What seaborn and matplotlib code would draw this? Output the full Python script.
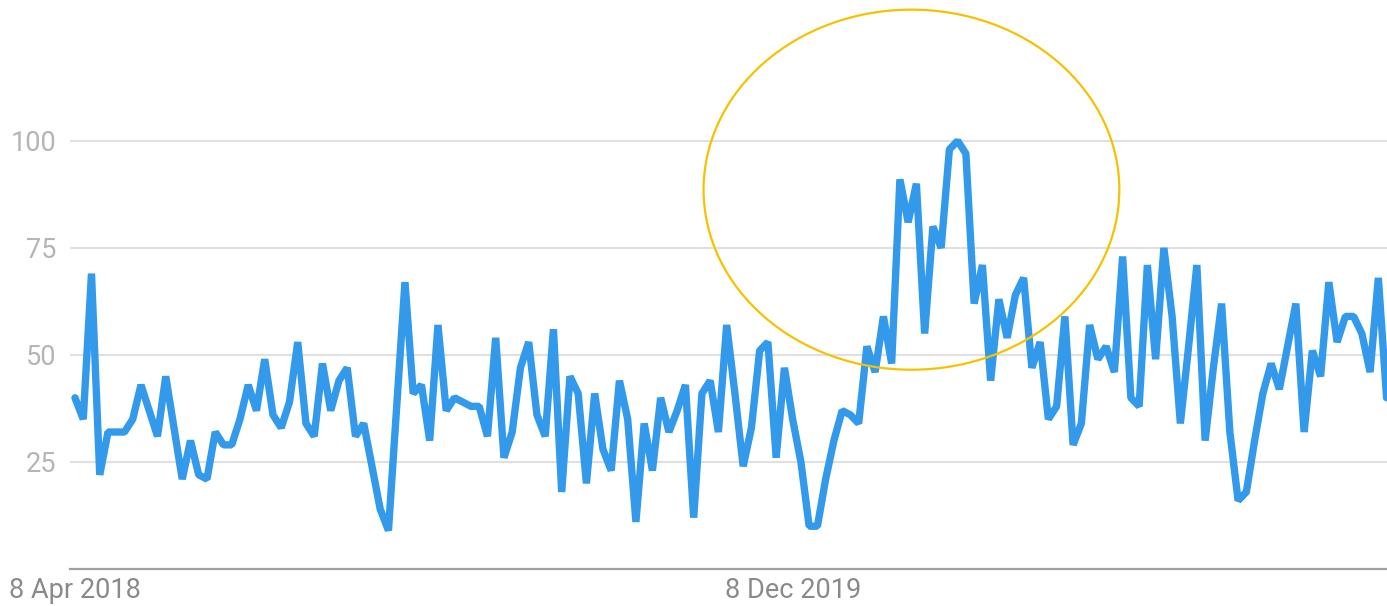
import pandas as pd
import seaborn as sns
import matplotlib.pyplot as plt
import matplotlib.dates as mdates
from matplotlib.patches import Ellipse

# weekly interest values
start_week = '2018-04-08'
interest = [
    40, 35, 69, 22, 32, 32, 32, 35, 43, 37,
    31, 45, 33, 21, 30, 22, 21, 32, 29, 29,
    35, 43, 37, 49, 36, 33, 39, 53, 34, 31,
    48, 37, 44, 47, 31, 34, 24, 14, 9, 38,
    67, 41, 43, 30, 57, 37, 40, 39, 38, 38,
    31, 54, 26, 32, 47, 53, 36, 31, 56, 18,
    45, 41, 20, 41, 28, 23, 44, 35, 11, 34,
    23, 40, 32, 37, 43, 12, 41, 44, 32, 57,
    41, 24, 33, 51, 53, 26, 47, 35, 25, 10,
    10, 21, 30, 37, 36, 34, 52, 46, 59, 48,
    91, 81, 90, 55, 80, 75, 98, 100, 97, 62,
    71, 44, 63, 54, 64, 68, 47, 53, 35, 38,
    59, 29, 34, 57, 49, 52, 46, 73, 40, 38,
    71, 49, 75, 59, 34, 52, 71, 30, 47, 62,
    32, 16, 18, 30, 41, 48, 42, 52, 62, 32,
    51, 45, 67, 53, 59, 59, 55, 46, 68, 40,
]
y_ticks = [25, 50, 75, 100]
x_tick_dates = ['2018-04-08', '2019-12-08']
x_tick_labels = ['8 Apr 2018', '8 Dec 2019']

weeks = pd.date_range(start_week, periods=len(interest), freq='7D')
df = pd.DataFrame({'week': weeks, 'interest': interest})

sns.set_style('white')
plt.rcParams['font.family'] = ['Roboto', 'DejaVu Sans']

fig = plt.figure(figsize=(13.87, 6.06), dpi=100)
ax = fig.add_axes([0.0505, 0.061, 0.9495, 0.939])

sns.lineplot(data=df, x='week', y='interest', ax=ax, color='#3399EB',
             linewidth=5.3, solid_joinstyle='bevel', zorder=3)

# highlight circle around the spike
w0 = mdates.date2num(weeks[0])
ax.add_patch(Ellipse((w0 + 101.4 * 7, 88.6), 50.4 * 7, 84.1,
                     fill=False, edgecolor='#F6C200', linewidth=1.6, zorder=4))

ax.set_xlim(weeks[0] - pd.Timedelta(weeks=0.6), weeks[0] + pd.Timedelta(weeks=159.05))
ax.set_ylim(0, 132.9)

ax.set_yticks(y_ticks)
ax.set_yticklabels([str(v) for v in y_ticks])
ax.set_xticks(pd.to_datetime(x_tick_dates))
ax.set_xticklabels(x_tick_labels)
ax.tick_params(axis='y', length=0, pad=10, labelsize=19.5, labelcolor='#b5b5b5')
ax.tick_params(axis='x', length=0, pad=6, labelsize=19.5, labelcolor='#8a8a8a')

ax.grid(axis='y', color='#e0e0e0', linewidth=1.5)
ax.grid(axis='x', visible=False)
for side in ['left', 'right', 'top']:
    ax.spines[side].set_visible(False)
ax.spines['bottom'].set_color('#a0a0a0')
ax.spines['bottom'].set_linewidth(1.6)

ax.set_xlabel('')
ax.set_ylabel('')

plt.savefig('out.png', dpi=100)
